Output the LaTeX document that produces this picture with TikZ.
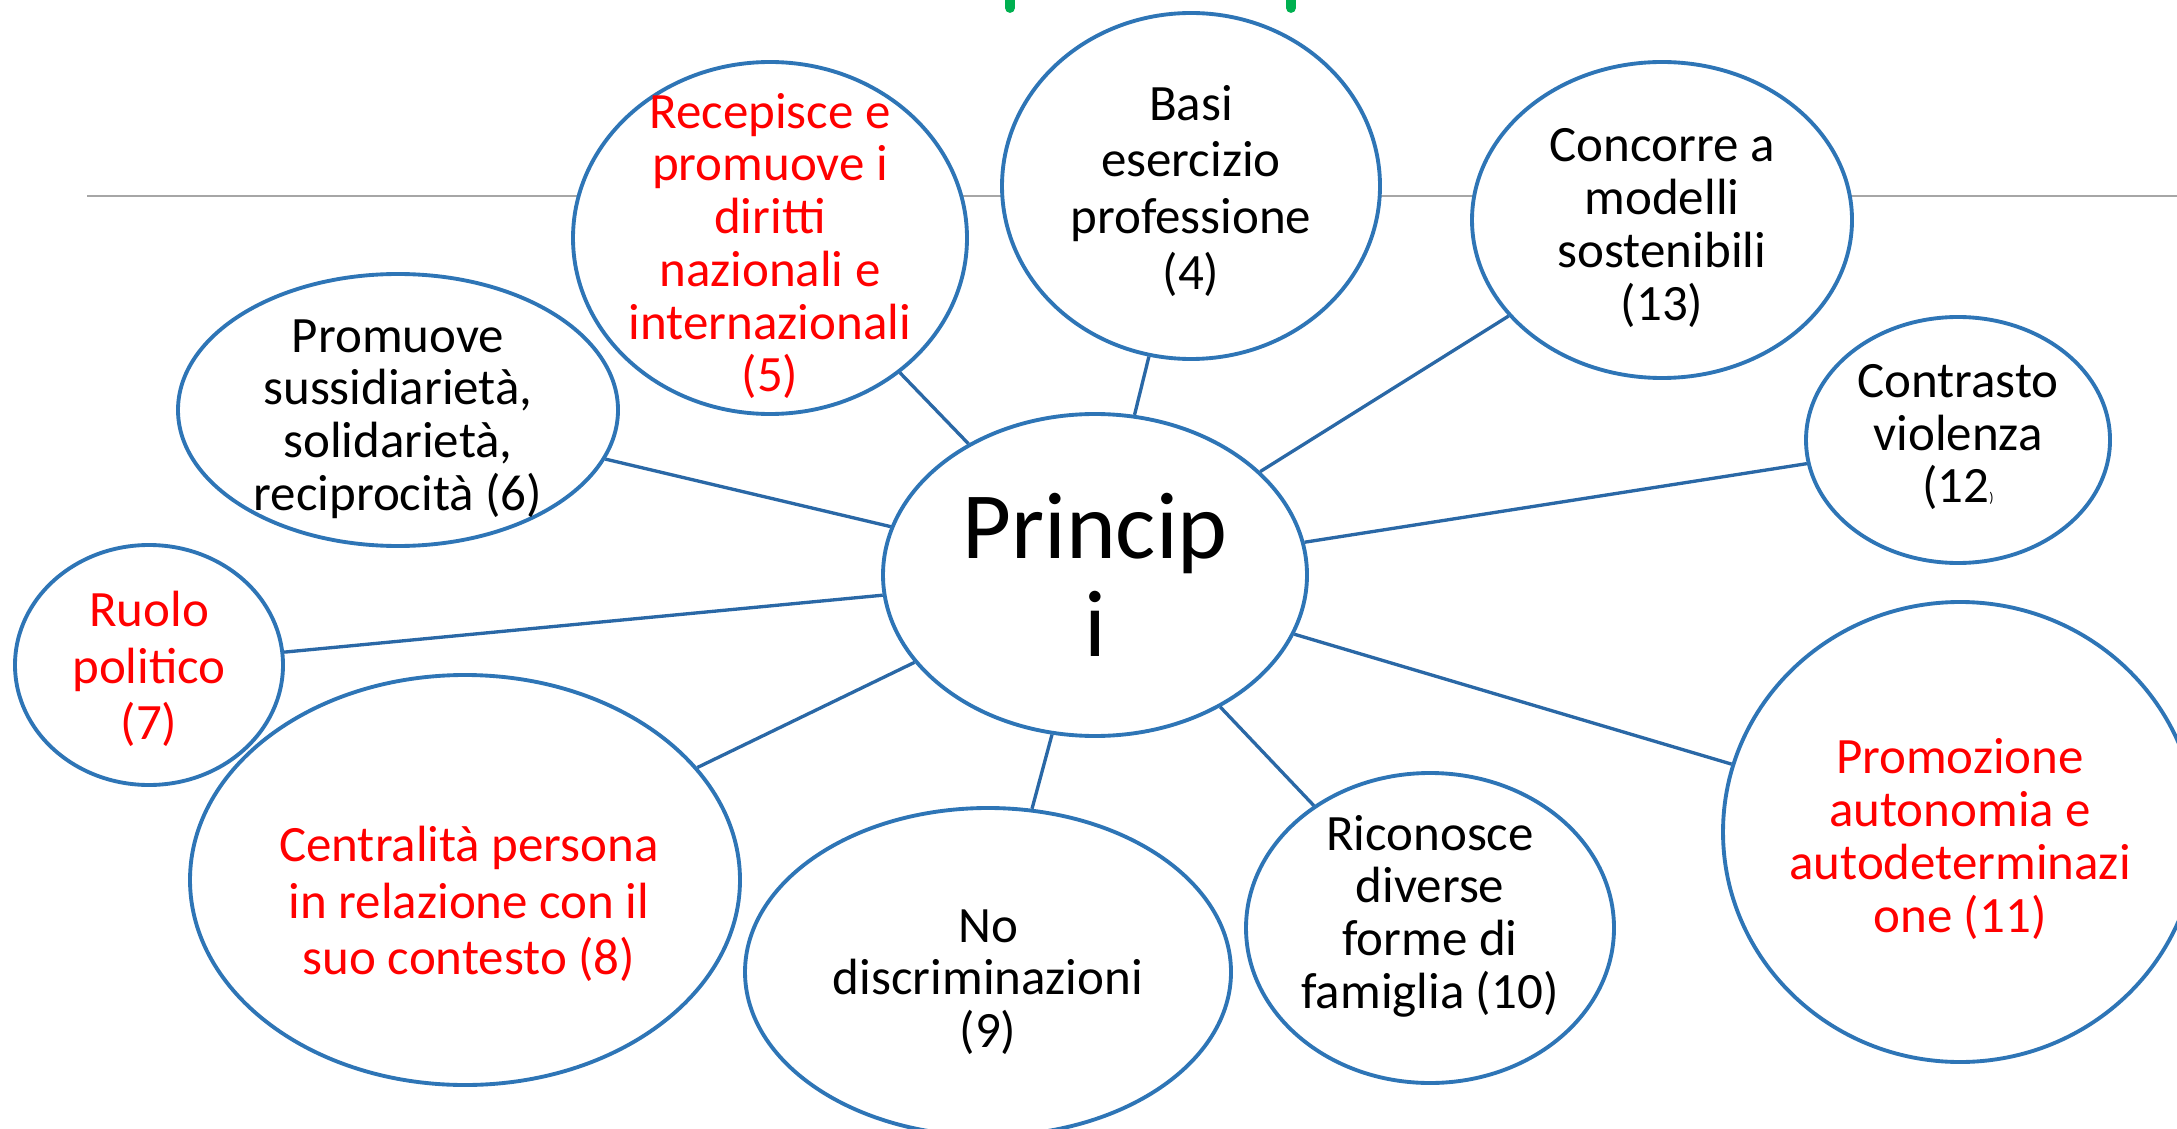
\documentclass[tikz,border=0pt]{standalone}
\usepackage{fontspec}
\setmainfont{Carlito}
\usetikzlibrary{shapes.geometric}
\definecolor{bolla}{RGB}{46,117,182}
\definecolor{raggio}{RGB}{42,104,166}
\definecolor{verde}{RGB}{0,176,80}
\begin{document}
\begin{tikzpicture}[
    bolla/.style={ellipse, draw=bolla, line width=1.1pt, fill=white, inner sep=0pt},
    testo/.style={align=center, font=\fontsize{14.5}{15}\selectfont},
    largo/.style={font=\fontsize{14.5}{16}\selectfont},
    raggio/.style={draw=raggio, line width=0.95pt}
]
    \useasboundingbox (0,0) rectangle (21.77,11.28);

    % 1. Linea grigia e segni verdi in alto
    \draw[gray!70, line width=0.7pt] (0.87,9.32) -- (21.77,9.32);
    \draw[verde, line width=2.8pt, line cap=round] (10.10,11.4) -- (10.10,11.20);
    \draw[verde, line width=2.8pt, line cap=round] (12.91,11.4) -- (12.91,11.20);

    % 2. Ellissi
    \node[bolla, minimum width=4.24cm, minimum height=3.22cm] (princ) at (10.95,5.53) {};
    \node[bolla, minimum width=3.94cm, minimum height=3.52cm] (rec) at (7.70,8.90) {};
    \node[bolla, minimum width=3.78cm, minimum height=3.46cm] (basi) at (11.91,9.42) {};
    \node[bolla, minimum width=3.80cm, minimum height=3.16cm] (conc) at (16.62,9.08) {};
    \node[bolla, minimum width=3.04cm, minimum height=2.46cm] (contr) at (19.58,6.88) {};
    \node[bolla, minimum width=4.74cm, minimum height=4.60cm] (autod) at (19.60,2.96) {};
    \node[bolla, minimum width=3.68cm, minimum height=3.10cm] (fam) at (14.30,2.00) {};
    \node[bolla, minimum width=4.86cm, minimum height=3.28cm] (nodis) at (9.88,1.56) {};
    \node[bolla, minimum width=5.50cm, minimum height=4.10cm] (centr) at (4.65,2.48) {};
    \node[bolla, minimum width=2.68cm, minimum height=2.40cm] (ruolo) at (1.49,4.63) {};
    \node[bolla, minimum width=4.40cm, minimum height=2.72cm] (sussid) at (3.98,7.18) {};

    % 3. Testi
    \node[align=center, font=\fontsize{27}{28}\selectfont] (tprinc) at (princ) {Princip\\i};
    \node[testo, red, yshift=-0.08cm] (trec) at (rec) {Recepisce e\\promuove i\\diritti\\nazionali e\\internazionali\\(5)};
    \node[testo, largo, yshift=-0.05cm] (tbasi) at (basi) {Basi\\esercizio\\professione\\(4)};
    \node[testo, yshift=-0.08cm] (tconc) at (conc) {Concorre a\\modelli\\sostenibili\\(13)};
    \node[testo, yshift=0.03cm] (tcontr) at (contr) {Contrasto\\violenza\\(12{\fontsize{4}{4}\selectfont)}};
    \node[testo, red, yshift=-0.07cm] (tautod) at (autod) {Promozione\\autonomia e\\autodeterminazi\\one (11)};
    \node[testo, yshift=0.12cm] (tfam) at (fam) {Riconosce\\diverse\\forme di\\famiglia (10)};
    \node[testo, yshift=-0.10cm] (tnodis) at (nodis) {No\\discriminazioni\\(9)};
    \node[testo, largo, red, yshift=-0.24cm, xshift=0.04cm] (tcentr) at (centr) {Centralità persona\\ in relazione con il\\suo contesto (8)};
    \node[testo, largo, red, yshift=-0.04cm] (truolo) at (ruolo) {Ruolo\\politico\\(7)};
    \node[testo, yshift=-0.09cm] (tsussid) at (sussid) {Promuove\\sussidiarietà,\\solidarietà,\\reciprocità (6)};

    % 4. Raggi dal centro
    \foreach \b in {rec,basi,conc,contr,autod,fam,nodis,centr,ruolo,sussid}
        \draw[raggio] (princ) -- (\b);
\end{tikzpicture}
\end{document}
